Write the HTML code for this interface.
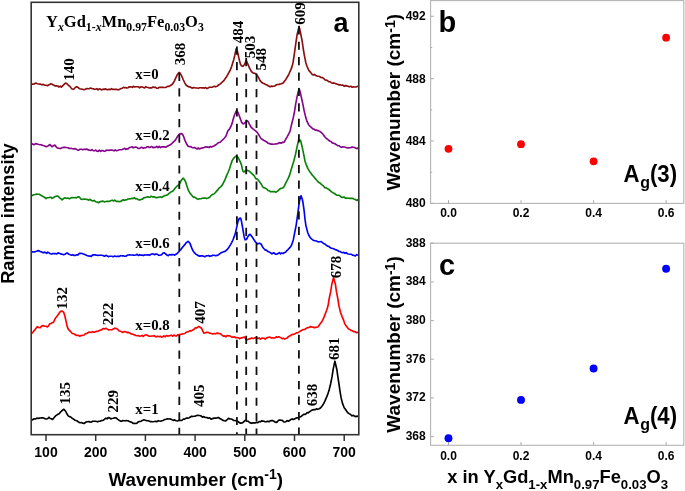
<!DOCTYPE html><html><head><meta charset="utf-8"><style>html,body{margin:0;padding:0;background:#fff;width:685px;height:491px;overflow:hidden}svg{display:block;will-change:transform}.s{font-family:"Liberation Sans",sans-serif;font-weight:bold}.t{font-family:"Liberation Serif",serif;font-weight:bold}</style></head><body>
<svg width="685" height="491" viewBox="0 0 685 491">
<path d="M31.5,84.6 L32.6,84.1 L34.2,84.0 L35.8,83.0 L37.3,83.7 L38.7,84.0 L40.2,84.1 L41.7,84.8 L43.2,84.4 L44.6,85.1 L46.2,85.3 L47.5,85.7 L48.5,85.0 L49.7,84.5 L50.8,83.8 L52.1,84.2 L53.4,85.1 L54.8,85.8 L56.3,85.8 L57.7,86.0 L59.0,87.0 L60.3,86.2 L61.4,87.1 L62.6,85.9 L63.6,84.9 L65.5,83.0 L66.7,83.5 L68.0,84.9 L69.5,86.1 L70.9,87.8 L72.0,89.0 L73.1,89.2 L74.2,88.7 L75.5,87.3 L76.7,86.7 L78.1,87.4 L79.6,88.8 L81.0,89.0 L82.5,89.2 L84.0,89.7 L85.4,89.2 L86.7,88.5 L88.4,88.7 L89.4,88.6 L90.6,88.0 L91.9,88.6 L93.2,88.7 L94.4,89.3 L95.7,89.2 L96.9,88.7 L98.1,89.8 L99.3,88.8 L100.6,89.3 L101.8,89.9 L103.0,89.1 L104.2,89.5 L105.4,88.8 L106.7,89.6 L107.9,89.6 L109.1,89.2 L110.3,89.6 L111.5,88.7 L112.8,89.4 L114.0,89.3 L115.3,89.4 L116.5,89.3 L117.6,89.8 L119.2,89.6 L120.7,88.6 L122.1,88.3 L123.4,87.3 L124.6,87.8 L125.8,87.6 L126.9,88.0 L128.0,87.7 L129.3,86.8 L130.7,86.8 L132.3,87.3 L133.3,86.3 L134.5,87.0 L135.8,86.7 L137.1,86.7 L138.3,86.7 L139.6,87.8 L140.8,86.8 L142.0,87.0 L143.2,87.3 L144.5,88.0 L145.7,86.7 L146.9,87.3 L148.1,87.5 L149.3,88.0 L150.6,87.9 L151.8,87.9 L153.0,87.0 L154.2,87.3 L155.4,87.3 L156.6,88.1 L157.8,88.3 L159.1,87.3 L160.3,87.3 L161.5,87.4 L162.8,87.3 L164.0,87.5 L165.3,87.5 L166.6,86.9 L167.8,86.3 L168.8,86.4 L170.5,85.5 L172.0,84.5 L173.2,83.1 L174.7,80.3 L176.1,77.2 L177.6,74.2 L179.0,72.4 L180.4,73.5 L181.9,76.5 L183.4,80.0 L184.9,83.1 L186.2,85.2 L187.8,86.3 L189.0,86.9 L190.4,87.0 L192.0,88.1 L193.6,87.6 L194.7,87.7 L195.9,88.0 L197.2,88.0 L198.4,88.3 L199.7,87.8 L200.9,87.7 L202.1,87.9 L203.3,87.8 L204.6,88.1 L205.8,87.5 L207.0,88.6 L208.2,88.1 L209.4,87.2 L210.7,87.2 L212.0,87.1 L213.3,86.8 L214.4,86.3 L215.5,86.8 L217.2,86.2 L218.6,85.0 L220.0,84.1 L221.4,82.8 L222.7,81.7 L223.9,80.6 L225.1,78.8 L226.2,77.3 L227.3,75.3 L228.9,72.5 L230.3,69.9 L231.6,66.6 L232.7,63.0 L233.8,59.4 L234.7,55.7 L236.1,48.8 L237.4,51.3 L239.1,59.1 L240.5,64.5 L241.5,65.8 L242.5,66.4 L243.5,65.7 L244.5,64.5 L246.2,60.3 L247.4,63.0 L248.4,65.3 L249.4,67.9 L251.3,71.4 L252.6,72.7 L253.8,73.1 L255.7,73.8 L256.7,75.0 L257.7,76.2 L258.8,78.2 L260.1,80.6 L261.5,82.2 L263.1,83.2 L264.4,83.8 L265.7,84.4 L267.0,84.9 L268.4,86.0 L270.0,86.8 L271.1,86.1 L272.3,86.4 L273.6,86.2 L275.0,85.9 L276.2,84.9 L277.5,84.5 L278.8,84.4 L280.0,84.1 L281.1,83.8 L282.4,83.4 L283.4,82.7 L284.4,81.3 L285.8,79.4 L287.3,77.0 L288.5,75.0 L289.7,72.2 L290.8,69.9 L292.1,66.4 L293.0,62.7 L294.1,55.6 L295.1,48.5 L296.1,41.4 L297.2,34.2 L299.1,26.4 L300.8,34.2 L302.2,41.4 L303.2,48.5 L304.4,55.6 L305.8,62.7 L307.1,66.6 L308.6,69.9 L309.7,71.4 L310.9,72.8 L312.2,74.4 L313.3,74.9 L314.4,74.4 L315.7,75.5 L317.2,76.1 L318.3,76.3 L319.5,76.5 L320.8,77.4 L322.2,77.6 L323.5,78.2 L324.8,79.8 L326.1,80.1 L327.4,80.6 L328.7,81.6 L330.0,81.7 L331.3,82.7 L332.6,83.2 L333.9,82.9 L335.2,83.4 L336.5,83.9 L337.7,84.2 L339.0,84.9 L340.3,84.8 L341.6,85.2 L342.9,85.0 L344.1,86.3 L345.4,85.6 L346.7,85.9 L348.0,86.2 L349.4,86.8 L350.8,86.3 L352.2,87.2 L353.6,86.8 L354.8,87.0 L355.8,87.0 L357.7,86.3 L358.7,86.6" fill="none" stroke="#8c0d0d" stroke-width="1.65" stroke-linejoin="round"/>
<path d="M31.5,144.2 L32.5,143.9 L34.0,144.7 L35.7,143.6 L37.3,144.0 L38.8,144.5 L40.3,144.7 L41.7,144.9 L43.1,145.5 L44.8,146.0 L46.2,146.7 L47.5,146.2 L48.7,145.6 L49.7,144.5 L50.8,145.4 L51.9,146.7 L53.4,145.7 L54.8,145.0 L55.8,146.4 L57.0,147.7 L58.2,148.1 L59.5,148.5 L60.7,148.4 L62.1,147.8 L63.6,147.4 L64.9,147.2 L66.4,147.5 L68.0,147.7 L69.4,148.5 L71.0,148.3 L72.5,148.7 L73.8,148.9 L75.2,148.6 L76.7,149.5 L77.7,150.1 L78.8,150.2 L80.1,149.2 L81.4,149.3 L82.6,149.8 L84.0,149.2 L85.4,149.4 L86.8,149.1 L88.4,149.9 L89.5,150.2 L90.7,150.5 L92.0,149.7 L93.2,150.6 L94.5,150.7 L95.7,150.1 L96.9,151.2 L98.1,151.4 L99.3,150.2 L100.6,151.4 L101.8,150.5 L103.0,150.6 L104.2,151.3 L105.4,151.0 L106.7,150.0 L107.9,150.3 L109.1,150.4 L110.3,150.1 L111.5,150.0 L112.8,150.2 L114.0,150.9 L115.3,149.9 L116.5,150.7 L117.6,150.5 L119.2,149.8 L120.7,149.7 L122.1,149.6 L123.4,149.1 L124.6,148.3 L125.8,149.3 L126.9,148.9 L128.0,148.9 L129.3,147.5 L130.7,147.3 L132.3,146.8 L133.3,147.8 L134.5,147.2 L135.8,147.1 L137.1,147.6 L138.3,148.5 L139.6,148.4 L140.8,147.5 L142.0,147.3 L143.2,148.3 L144.5,147.7 L145.7,147.8 L146.9,146.8 L148.1,146.7 L149.3,147.5 L150.6,147.1 L151.8,146.5 L153.0,147.7 L154.2,147.2 L155.4,147.5 L156.7,146.3 L157.9,147.6 L159.2,146.3 L160.4,147.6 L161.5,146.9 L163.1,146.7 L164.6,146.9 L166.0,147.2 L167.3,146.2 L168.9,145.4 L170.3,144.8 L171.7,143.6 L173.0,142.4 L174.3,141.2 L175.4,140.1 L176.8,137.7 L178.0,135.8 L179.5,134.1 L180.9,133.6 L182.1,133.9 L183.2,135.5 L184.9,140.1 L186.2,143.2 L187.8,146.0 L189.0,146.6 L190.5,146.5 L192.2,147.7 L193.3,147.7 L194.5,147.5 L195.8,148.2 L197.1,149.0 L198.3,148.0 L199.5,149.0 L201.0,148.3 L202.4,147.9 L203.8,147.8 L205.3,146.9 L206.4,146.9 L207.7,147.1 L209.0,147.5 L210.2,146.5 L211.5,147.1 L212.6,146.6 L214.3,145.8 L215.9,144.7 L217.3,143.7 L218.4,142.7 L220.0,142.3 L221.4,141.0 L222.9,139.7 L224.5,138.0 L225.9,136.3 L227.8,130.9 L228.8,129.9 L229.8,128.5 L231.0,126.2 L232.2,123.1 L233.2,119.3 L234.2,115.7 L236.1,111.2 L237.1,111.3 L238.1,112.8 L239.6,116.7 L241.5,122.1 L242.8,123.6 L244.0,123.6 L245.9,121.9 L247.4,120.8 L248.4,122.1 L249.4,124.1 L251.3,127.5 L252.7,128.7 L254.2,129.9 L255.8,131.1 L257.2,132.4 L259.1,135.3 L260.0,136.8 L261.1,138.7 L262.5,139.5 L264.0,140.6 L265.5,141.3 L267.0,142.2 L268.0,143.2 L269.4,143.6 L270.6,144.1 L272.0,144.1 L273.5,144.3 L275.0,144.0 L276.2,143.9 L277.6,143.8 L278.9,142.9 L280.1,142.6 L281.1,143.2 L282.7,142.2 L283.7,142.5 L284.8,141.1 L285.8,139.0 L287.0,137.1 L288.2,134.8 L290.1,131.2 L291.5,124.7 L293.3,117.6 L294.7,110.5 L295.8,103.4 L297.2,96.2 L299.0,88.6 L300.1,91.6 L301.1,96.2 L302.7,103.4 L304.1,110.5 L305.8,117.6 L307.0,121.4 L308.6,124.7 L309.9,126.2 L311.5,127.6 L312.9,128.9 L314.1,129.1 L315.3,130.1 L316.5,130.1 L317.9,130.6 L319.4,131.2 L320.9,132.1 L322.1,133.3 L323.2,134.5 L324.5,136.5 L325.8,137.8 L327.0,138.9 L328.3,139.9 L329.6,141.0 L331.0,141.5 L332.3,142.9 L333.6,143.3 L334.9,143.8 L336.3,144.7 L337.6,145.7 L338.9,145.7 L340.2,146.7 L341.5,147.3 L342.8,146.9 L344.1,147.0 L345.4,147.3 L346.7,147.7 L348.0,147.9 L349.4,147.7 L350.7,147.7 L351.9,147.0 L353.5,147.3 L355.1,147.7 L356.5,148.6 L357.6,148.1 L358.7,148.5" fill="none" stroke="#86068a" stroke-width="1.65" stroke-linejoin="round"/>
<path d="M31.5,195.6 L32.4,195.4 L33.7,194.8 L35.2,194.5 L36.6,194.1 L37.9,194.2 L39.2,194.3 L40.5,195.1 L41.7,195.7 L43.2,196.6 L44.7,197.4 L46.1,198.7 L47.4,197.7 L48.6,197.7 L49.7,197.2 L50.8,197.2 L51.9,198.3 L53.3,197.7 L54.8,196.8 L56.0,196.2 L57.2,196.1 L58.5,196.6 L59.7,198.1 L61.0,198.8 L62.1,199.8 L63.5,198.6 L65.0,197.8 L66.4,198.5 L68.0,198.0 L69.4,198.9 L70.9,197.9 L72.3,197.5 L73.8,197.7 L75.3,197.5 L76.5,197.9 L77.8,196.9 L78.9,196.8 L79.8,197.7 L81.1,199.3 L82.0,199.4 L83.2,199.3 L84.5,199.0 L85.9,199.3 L87.2,199.3 L88.4,200.2 L90.0,199.3 L91.5,200.5 L92.9,200.9 L94.2,200.4 L95.8,201.8 L97.2,202.1 L98.6,202.7 L100.0,201.8 L101.4,201.4 L103.0,201.1 L104.3,201.9 L105.8,201.5 L107.3,201.3 L108.8,201.4 L110.0,201.1 L111.2,200.5 L112.4,200.3 L113.6,201.0 L114.7,200.2 L116.3,201.4 L117.7,201.3 L119.1,201.6 L120.6,201.5 L122.0,200.4 L123.4,199.9 L124.6,200.2 L125.8,199.9 L127.0,199.6 L128.2,199.0 L129.4,198.9 L130.8,198.8 L131.9,198.3 L133.1,198.6 L134.4,197.7 L135.6,198.8 L136.7,198.6 L138.1,199.5 L139.2,200.0 L140.3,199.9 L141.4,199.3 L142.5,199.1 L144.0,197.6 L145.0,197.7 L146.2,197.2 L147.5,196.8 L148.8,197.1 L150.1,197.2 L151.3,196.2 L152.9,196.9 L154.3,196.8 L155.7,197.6 L157.1,197.6 L158.3,197.2 L159.5,197.0 L160.6,196.9 L161.8,197.4 L163.0,196.5 L164.5,195.6 L166.0,195.5 L167.5,194.8 L168.8,193.6 L170.4,192.3 L171.9,191.5 L173.2,190.7 L174.7,188.7 L176.1,187.0 L177.6,185.7 L179.0,184.8 L180.2,182.6 L181.2,180.4 L183.1,178.2 L184.3,179.3 L185.6,181.9 L187.0,186.2 L188.5,190.7 L189.7,192.7 L190.9,194.2 L192.2,195.8 L193.4,197.2 L194.6,197.1 L195.8,198.0 L197.0,198.7 L198.2,199.3 L199.5,198.7 L200.9,198.7 L202.3,198.2 L203.8,198.1 L205.3,198.0 L206.7,198.6 L208.2,198.0 L209.7,197.2 L211.3,195.3 L212.6,194.3 L213.9,194.0 L215.0,193.0 L216.4,191.4 L217.9,189.6 L219.4,187.8 L220.9,186.6 L222.4,184.9 L223.8,182.2 L225.2,179.1 L226.7,175.4 L228.2,172.0 L229.6,168.6 L230.9,164.3 L232.1,160.7 L234.0,157.8 L235.0,156.9 L236.0,156.1 L237.0,156.3 L238.0,157.3 L239.9,161.2 L241.4,164.6 L242.8,171.0 L243.8,172.0 L244.8,171.3 L246.7,170.3 L247.7,170.4 L248.7,170.8 L249.8,171.6 L251.1,172.8 L252.6,174.3 L254.1,175.6 L256.0,178.8 L256.9,178.8 L258.0,179.8 L259.4,181.6 L260.9,183.7 L262.1,185.7 L263.3,187.6 L264.4,187.8 L265.6,188.4 L266.8,189.1 L268.1,190.5 L269.7,191.1 L270.7,191.8 L271.9,191.6 L273.2,191.5 L274.5,191.6 L275.7,192.3 L277.2,191.4 L278.6,190.1 L280.0,188.8 L281.1,188.4 L282.6,188.0 L283.7,187.1 L284.7,185.3 L285.8,182.9 L286.9,180.9 L288.3,178.1 L289.4,175.7 L290.5,172.1 L291.5,168.6 L292.6,165.1 L293.7,161.5 L295.5,154.4 L297.0,147.2 L298.7,139.4 L300.6,140.4 L302.2,147.2 L303.7,154.4 L305.1,161.5 L306.4,165.1 L307.9,168.6 L309.4,171.2 L310.8,172.9 L311.8,174.6 L312.9,175.7 L313.8,176.7 L314.9,178.1 L316.5,180.0 L317.6,181.2 L318.9,182.6 L320.4,183.3 L321.9,184.8 L323.4,185.9 L324.7,187.6 L326.2,187.9 L327.6,188.7 L328.9,189.5 L330.2,190.6 L331.6,191.9 L333.0,192.7 L334.4,193.4 L335.7,194.5 L337.1,195.2 L338.5,195.3 L339.9,195.8 L341.3,197.1 L342.7,197.4 L344.1,197.0 L345.5,198.1 L346.9,198.0 L348.3,198.3 L349.7,198.4 L351.1,198.3 L352.4,198.3 L353.8,199.0 L355.2,199.3 L356.5,200.4 L357.7,199.6 L358.5,200.9" fill="none" stroke="#0a820a" stroke-width="1.65" stroke-linejoin="round"/>
<path d="M31.5,251.9 L32.5,251.9 L34.0,252.0 L35.7,251.6 L37.3,250.9 L38.7,250.6 L40.2,251.5 L41.6,251.9 L43.1,252.9 L44.3,252.1 L45.5,252.5 L46.7,253.3 L47.9,252.2 L49.0,252.9 L50.3,253.7 L51.6,254.0 L52.8,253.5 L54.1,253.6 L55.4,253.5 L56.7,254.0 L58.0,252.9 L59.2,253.3 L60.8,253.9 L62.3,254.3 L63.6,254.7 L65.0,254.3 L66.5,253.1 L67.6,253.1 L68.9,254.3 L70.3,254.8 L71.6,255.1 L72.8,254.8 L74.1,255.5 L75.3,255.4 L76.7,254.8 L78.0,254.9 L79.4,253.4 L80.8,253.4 L82.1,253.5 L83.3,254.0 L84.7,254.4 L85.8,254.9 L86.9,255.5 L88.4,255.9 L89.9,256.1 L91.3,256.4 L92.7,254.9 L94.2,254.8 L95.2,254.9 L96.3,255.1 L97.6,255.3 L98.9,255.3 L100.1,255.2 L101.6,255.3 L103.0,255.5 L104.4,256.2 L105.9,255.4 L107.1,255.8 L108.3,256.7 L109.4,256.3 L110.6,256.2 L111.8,256.2 L113.3,256.7 L114.7,256.0 L116.2,256.5 L117.6,256.2 L119.1,256.4 L120.6,255.7 L122.0,255.8 L123.4,255.8 L124.6,256.2 L125.8,256.2 L126.9,255.5 L128.0,255.0 L129.3,254.9 L130.7,255.0 L132.3,255.0 L133.3,255.1 L134.5,255.3 L135.8,255.0 L137.1,254.3 L138.3,255.5 L139.6,254.7 L140.8,255.2 L142.0,255.0 L143.2,255.6 L144.5,254.9 L145.7,255.0 L146.9,254.9 L148.1,254.7 L149.4,255.3 L150.6,254.6 L151.9,254.0 L153.1,253.9 L154.2,254.6 L155.8,254.1 L157.3,254.2 L158.7,255.3 L160.0,255.2 L161.6,254.8 L163.1,253.0 L164.4,252.8 L165.7,254.0 L167.3,255.3 L168.3,255.7 L169.5,254.5 L170.9,254.9 L172.2,254.6 L173.5,254.6 L174.6,255.2 L176.3,254.0 L177.6,253.1 L179.0,251.4 L180.5,250.0 L182.0,247.9 L183.4,246.3 L185.0,244.4 L186.3,242.6 L188.1,241.3 L190.0,243.4 L191.0,246.1 L192.2,249.2 L193.2,251.0 L194.3,252.6 L195.8,254.1 L196.9,254.7 L198.2,255.6 L199.6,256.1 L201.0,255.9 L202.4,255.8 L203.6,256.3 L204.8,256.7 L206.1,255.9 L207.4,255.8 L208.6,255.5 L209.7,256.2 L211.3,255.9 L212.8,255.2 L214.2,255.3 L215.5,255.7 L217.1,255.4 L218.6,254.7 L219.9,253.6 L221.3,252.6 L222.5,252.2 L223.7,251.8 L225.0,251.4 L226.2,250.3 L227.6,249.1 L228.9,247.2 L230.4,244.9 L231.8,242.3 L233.1,239.5 L234.3,236.4 L235.4,233.0 L236.3,229.1 L237.9,221.7 L239.2,218.6 L240.5,218.0 L241.4,220.8 L242.6,227.6 L244.1,236.4 L245.1,239.8 L246.5,239.4 L248.0,236.4 L249.0,235.0 L250.0,234.3 L251.4,235.9 L252.4,237.3 L253.4,238.9 L255.3,241.8 L256.3,242.7 L257.3,243.9 L258.5,243.5 L259.7,243.3 L261.2,244.2 L262.7,247.2 L263.8,248.5 L265.1,249.9 L266.6,250.4 L268.1,251.6 L270.0,252.4 L271.9,253.8 L272.9,253.1 L274.0,252.9 L275.4,254.2 L276.7,254.2 L278.0,253.4 L279.3,252.7 L280.6,253.9 L281.8,253.0 L283.0,253.5 L284.1,252.8 L285.5,252.2 L286.7,250.7 L287.8,249.8 L289.1,248.4 L290.3,247.1 L291.4,245.6 L293.3,239.9 L294.7,232.7 L296.1,225.6 L297.1,218.5 L298.1,211.4 L299.0,204.2 L299.7,200.0 L301.1,195.7 L302.5,200.0 L303.2,204.2 L304.2,211.4 L304.9,218.5 L305.9,225.6 L307.8,232.7 L308.8,235.3 L309.9,237.0 L311.1,238.7 L312.8,239.9 L314.1,240.6 L315.8,240.8 L317.4,241.4 L318.5,241.9 L319.3,241.7 L321.2,241.6 L322.5,242.6 L323.5,243.4 L324.9,244.0 L326.6,245.6 L327.6,246.1 L328.8,246.4 L330.1,247.5 L331.4,248.2 L332.7,248.5 L334.0,248.8 L335.2,249.7 L336.4,249.9 L337.7,250.5 L338.9,251.4 L340.1,251.5 L341.3,252.3 L342.5,252.7 L343.8,252.4 L345.1,253.3 L346.3,252.7 L347.5,253.8 L348.6,254.0 L350.1,254.2 L351.5,254.3 L352.8,255.3 L354.1,255.4 L355.4,256.0 L356.7,254.7 L357.9,255.0 L358.7,255.1" fill="none" stroke="#0000f5" stroke-width="1.65" stroke-linejoin="round"/>
<path d="M31.5,333.7 L32.8,332.3 L34.4,330.4 L35.8,328.6 L37.3,326.7 L38.8,327.5 L40.2,327.7 L41.6,326.0 L43.1,325.6 L44.5,326.2 L46.1,326.2 L47.5,327.0 L48.6,325.7 L49.7,323.8 L50.9,323.7 L52.2,322.7 L53.4,322.3 L54.5,320.1 L55.5,318.0 L57.0,316.3 L58.5,314.3 L59.6,312.4 L60.7,311.4 L62.2,311.1 L63.6,312.1 L65.0,316.5 L66.1,321.6 L67.2,326.7 L68.3,329.1 L69.4,330.4 L70.7,331.7 L72.3,333.5 L73.7,333.7 L75.2,334.8 L76.7,335.4 L78.2,335.3 L79.6,336.1 L81.1,335.6 L82.6,335.2 L84.1,335.0 L85.5,333.6 L86.9,333.5 L88.4,332.4 L89.6,332.0 L91.1,332.5 L92.7,331.6 L94.2,332.4 L95.4,331.7 L96.6,331.2 L97.8,331.4 L99.0,330.7 L100.1,330.1 L101.6,329.9 L103.0,328.5 L104.5,328.9 L105.9,328.3 L107.3,329.1 L108.8,330.0 L110.3,329.7 L111.8,329.7 L113.3,328.9 L114.7,328.2 L116.1,328.4 L117.6,329.3 L118.9,330.7 L120.5,331.3 L121.7,331.7 L123.0,332.4 L124.4,331.5 L125.7,331.8 L127.0,332.6 L128.4,332.4 L129.6,332.9 L130.9,333.8 L132.3,334.1 L133.4,334.6 L134.6,334.8 L135.8,335.5 L137.1,335.8 L138.4,335.5 L139.6,336.2 L140.8,336.0 L142.0,335.4 L143.2,336.4 L144.5,335.3 L145.7,335.0 L146.9,334.9 L148.1,335.8 L149.3,336.2 L150.6,336.3 L151.8,336.0 L153.0,336.0 L154.2,335.7 L155.4,336.7 L156.6,336.6 L157.8,336.2 L159.1,336.7 L160.3,336.3 L161.5,337.1 L162.7,336.7 L163.9,335.9 L165.2,336.8 L166.4,335.5 L167.6,336.1 L168.8,335.9 L170.1,335.5 L171.3,335.2 L172.6,336.2 L173.9,335.0 L175.1,335.7 L176.1,336.1 L177.7,334.8 L179.0,334.6 L180.5,334.6 L181.8,334.1 L183.3,333.8 L184.8,333.5 L186.3,332.2 L187.5,331.9 L188.7,331.4 L190.0,330.6 L191.1,331.0 L192.2,330.4 L193.8,329.5 L195.3,327.9 L196.5,328.0 L197.7,327.1 L198.7,326.5 L200.1,327.2 L201.6,328.2 L202.6,330.7 L203.8,333.1 L205.0,333.0 L206.5,332.3 L208.2,332.4 L209.3,333.1 L210.5,333.3 L211.8,333.8 L213.0,333.9 L214.1,333.5 L215.7,333.7 L217.1,333.1 L218.4,333.4 L219.7,333.6 L220.9,334.1 L222.0,335.1 L223.4,336.2 L224.9,335.9 L226.0,336.8 L227.2,335.5 L228.5,335.8 L229.8,335.8 L231.0,336.7 L232.3,337.1 L233.5,337.1 L234.7,336.8 L235.9,337.8 L237.1,337.5 L238.3,337.7 L239.5,338.7 L240.8,338.1 L242.1,337.7 L243.4,337.3 L244.4,337.0 L246.3,339.5 L247.5,339.7 L248.9,338.9 L250.5,338.6 L251.6,338.0 L252.8,338.4 L254.1,338.2 L255.3,337.8 L256.6,337.8 L257.8,338.5 L259.0,337.9 L260.3,339.2 L261.5,338.3 L262.7,338.1 L263.9,338.2 L265.1,339.1 L266.4,338.1 L267.6,337.6 L268.8,337.3 L270.0,337.1 L271.3,338.0 L272.5,337.9 L273.8,338.0 L274.9,337.9 L276.2,336.9 L277.5,337.3 L278.7,336.8 L279.8,337.3 L281.1,337.8 L282.2,338.7 L283.5,338.3 L284.6,339.0 L285.9,338.6 L287.1,338.1 L288.4,336.6 L289.7,336.1 L291.0,335.2 L292.2,334.4 L293.3,334.5 L294.9,333.8 L296.5,332.9 L297.7,332.7 L299.1,331.9 L300.6,330.9 L302.2,330.1 L303.5,329.5 L304.9,329.4 L306.4,328.2 L307.9,327.6 L309.3,327.3 L310.5,326.6 L311.8,326.9 L313.1,327.1 L314.4,327.8 L315.5,327.4 L316.5,327.2 L318.0,326.9 L319.0,325.4 L320.0,324.1 L321.4,322.3 L322.8,319.9 L324.3,316.4 L325.7,312.7 L327.0,309.2 L328.1,305.6 L329.2,298.5 L330.7,291.4 L331.8,284.2 L333.5,277.6 L335.4,284.2 L336.4,291.4 L337.8,298.5 L338.9,305.6 L340.6,312.7 L342.1,316.6 L343.5,319.9 L344.9,324.1 L345.9,325.6 L347.0,327.0 L348.4,328.7 L349.9,329.6 L351.0,330.4 L352.2,330.7 L353.5,331.7 L354.8,331.5 L356.3,332.7 L357.7,332.4 L358.7,332.4" fill="none" stroke="#fb0000" stroke-width="1.65" stroke-linejoin="round"/>
<path d="M31.5,420.3 L32.6,419.7 L34.1,418.8 L35.8,419.0 L36.9,418.0 L38.1,418.5 L39.4,418.1 L40.6,418.0 L41.7,417.8 L43.3,417.9 L44.8,418.6 L46.1,419.0 L47.6,418.7 L49.0,417.2 L50.2,418.5 L51.4,418.8 L52.6,419.5 L54.0,417.8 L55.5,415.9 L56.7,415.1 L58.0,414.3 L59.2,413.7 L60.6,412.0 L61.8,410.8 L62.9,409.8 L63.9,409.3 L65.8,411.5 L66.9,413.8 L68.2,415.9 L69.4,416.6 L70.8,417.0 L72.3,418.4 L73.7,419.2 L75.1,420.3 L76.7,420.7 L77.8,421.5 L79.0,422.4 L80.2,422.7 L81.4,422.6 L82.6,423.1 L84.1,423.5 L85.5,422.3 L87.0,421.7 L88.4,421.5 L89.8,421.9 L91.3,422.1 L92.7,421.2 L94.2,421.2 L95.4,421.3 L96.6,421.5 L97.7,421.8 L98.9,421.2 L100.1,421.2 L101.6,420.5 L103.0,420.4 L104.4,419.3 L105.9,418.1 L107.1,418.8 L108.3,417.6 L109.6,417.9 L110.7,418.9 L111.8,418.5 L113.3,418.3 L114.7,417.8 L116.1,417.8 L117.5,419.2 L118.9,420.2 L120.5,421.1 L121.6,421.3 L122.9,420.6 L124.2,420.7 L125.4,420.8 L126.4,420.5 L128.0,420.7 L129.4,421.5 L130.5,421.9 L131.8,422.3 L133.2,423.4 L134.5,423.4 L135.8,423.5 L137.0,423.1 L138.3,421.9 L139.6,421.5 L141.0,421.2 L142.4,420.4 L143.9,419.8 L145.4,420.3 L146.6,420.6 L147.8,420.7 L148.9,421.0 L150.1,421.6 L151.3,421.6 L152.8,421.7 L154.2,421.5 L155.6,421.2 L157.1,421.6 L158.3,420.7 L159.5,421.0 L160.6,421.2 L161.8,420.8 L163.0,420.5 L164.5,419.6 L165.9,419.3 L167.4,418.9 L168.8,419.0 L170.3,418.9 L171.8,419.6 L173.2,420.4 L174.6,419.9 L176.2,420.7 L177.6,421.0 L179.0,420.3 L180.4,420.3 L181.8,420.5 L183.4,419.0 L184.7,419.1 L186.2,418.1 L187.7,418.1 L189.2,417.8 L190.4,417.0 L191.7,416.2 L192.9,416.5 L194.1,416.2 L195.1,416.2 L196.5,415.5 L197.6,415.3 L198.7,415.5 L199.9,415.5 L201.1,416.0 L202.4,417.1 L203.8,416.6 L205.2,417.5 L206.8,417.5 L208.2,418.3 L209.6,417.8 L211.1,419.2 L212.6,418.6 L214.0,418.1 L215.4,418.1 L216.9,417.9 L218.4,417.5 L219.8,418.5 L221.3,419.3 L222.9,420.4 L224.3,420.8 L225.5,421.0 L227.2,419.7 L228.5,418.3 L229.7,418.9 L230.9,419.0 L232.2,419.3 L233.5,420.4 L235.0,420.5 L236.5,420.9 L237.8,421.3 L239.3,422.6 L240.7,423.1 L242.0,423.0 L243.3,422.2 L244.4,421.1 L245.6,420.1 L246.7,421.1 L248.0,421.2 L249.2,422.2 L250.5,422.9 L251.7,423.3 L252.9,422.9 L254.1,422.7 L255.4,423.0 L256.6,422.2 L257.8,422.6 L259.1,421.6 L260.3,421.8 L261.5,420.9 L262.8,421.1 L263.9,421.3 L265.1,421.8 L266.4,421.6 L267.6,421.2 L268.9,421.8 L270.2,420.9 L271.4,420.6 L272.5,420.6 L273.9,421.3 L275.1,422.0 L276.2,422.5 L277.4,421.7 L278.6,420.3 L279.8,420.0 L281.0,420.3 L282.2,420.4 L283.5,421.7 L284.6,422.0 L285.9,421.7 L287.1,420.6 L288.4,421.2 L289.6,420.6 L290.9,419.4 L292.1,418.9 L293.3,419.5 L294.5,418.9 L295.7,418.3 L296.8,417.9 L298.1,417.6 L299.5,417.0 L300.9,416.6 L302.4,415.3 L303.7,414.3 L304.9,414.4 L306.1,413.8 L307.2,412.6 L308.3,412.8 L309.4,411.8 L310.6,411.1 L311.7,410.2 L312.9,409.9 L314.1,409.6 L315.3,409.7 L316.4,408.8 L317.5,409.3 L319.2,408.7 L320.7,407.7 L322.3,405.8 L323.8,403.4 L325.1,400.7 L326.4,397.7 L327.8,394.1 L329.0,390.6 L330.7,383.5 L332.1,376.4 L333.2,369.2 L334.9,361.2 L336.8,369.2 L337.8,376.4 L338.9,383.5 L339.9,390.6 L341.1,397.7 L342.5,403.4 L344.2,407.7 L345.6,409.5 L346.5,411.1 L347.8,412.7 L349.1,413.6 L350.6,414.5 L352.0,415.8 L353.5,415.4 L354.9,416.4 L356.1,416.6 L357.3,416.0 L358.2,417.0" fill="none" stroke="#000000" stroke-width="1.65" stroke-linejoin="round"/>
<line x1="179.3" y1="72.8" x2="179.3" y2="434" stroke="#111" stroke-width="1.8" stroke-dasharray="8.2 7.23"/>
<line x1="236.9" y1="46.6" x2="236.9" y2="434" stroke="#111" stroke-width="1.8" stroke-dasharray="8.2 7.23"/>
<line x1="246.2" y1="58.1" x2="246.2" y2="434" stroke="#111" stroke-width="1.8" stroke-dasharray="8.2 7.23"/>
<line x1="256.5" y1="73.6" x2="256.5" y2="434" stroke="#111" stroke-width="1.8" stroke-dasharray="8.2 7.23"/>
<line x1="298.9" y1="26.2" x2="298.9" y2="434" stroke="#111" stroke-width="1.8" stroke-dasharray="8.2 7.23"/>
<rect x="31.2" y="2.3" width="327.6" height="432.4" fill="none" stroke="#333" stroke-width="1.6"/>
<line x1="46.0" y1="434.7" x2="46.0" y2="441" stroke="#333" stroke-width="1.5"/>
<text class="s" transform="translate(46.0,457.0) scale(1,1.07)" font-size="14" text-anchor="middle">100</text>
<line x1="95.7" y1="434.7" x2="95.7" y2="441" stroke="#333" stroke-width="1.5"/>
<text class="s" transform="translate(95.7,457.0) scale(1,1.07)" font-size="14" text-anchor="middle">200</text>
<line x1="145.4" y1="434.7" x2="145.4" y2="441" stroke="#333" stroke-width="1.5"/>
<text class="s" transform="translate(145.4,457.0) scale(1,1.07)" font-size="14" text-anchor="middle">300</text>
<line x1="195.1" y1="434.7" x2="195.1" y2="441" stroke="#333" stroke-width="1.5"/>
<text class="s" transform="translate(195.1,457.0) scale(1,1.07)" font-size="14" text-anchor="middle">400</text>
<line x1="244.8" y1="434.7" x2="244.8" y2="441" stroke="#333" stroke-width="1.5"/>
<text class="s" transform="translate(244.8,457.0) scale(1,1.07)" font-size="14" text-anchor="middle">500</text>
<line x1="294.5" y1="434.7" x2="294.5" y2="441" stroke="#333" stroke-width="1.5"/>
<text class="s" transform="translate(294.5,457.0) scale(1,1.07)" font-size="14" text-anchor="middle">600</text>
<line x1="344.2" y1="434.7" x2="344.2" y2="441" stroke="#333" stroke-width="1.5"/>
<text class="s" transform="translate(344.2,457.0) scale(1,1.07)" font-size="14" text-anchor="middle">700</text>
<text class="s" x="195.8" y="486" font-size="18.8" text-anchor="middle">Wavenumber (cm<tspan font-size="14" dy="-7.2">-1</tspan><tspan dy="7.2">)</tspan></text>
<text class="s" transform="translate(13.6,213.6) rotate(-90)" font-size="18.2" text-anchor="middle">Raman intensity</text>
<text class="t" x="46" y="26.6" font-size="16.5">Y<tspan font-size="11.8" dy="4.6" font-style="italic">x</tspan><tspan dy="-4.6">Gd</tspan><tspan font-size="11.8" dy="4.6">1-<tspan font-style="italic">x</tspan></tspan><tspan dy="-4.6">Mn</tspan><tspan font-size="11.8" dy="4.6">0.97</tspan><tspan dy="-4.6">Fe</tspan><tspan font-size="11.8" dy="4.6">0.03</tspan><tspan dy="-4.6">O</tspan><tspan font-size="11.8" dy="4.6">3</tspan></text>
<text class="s" x="333.6" y="32.1" font-size="27">a</text>
<text class="t" x="135.3" y="78.9" font-size="14.8">x=0</text>
<text class="t" x="135.3" y="140.3" font-size="14.8">x=0.2</text>
<text class="t" x="135.3" y="191.2" font-size="14.8">x=0.4</text>
<text class="t" x="135.3" y="247.6" font-size="14.8">x=0.6</text>
<text class="t" x="135.3" y="329.9" font-size="14.8">x=0.8</text>
<text class="t" x="135.3" y="413.9" font-size="14.8">x=1</text>
<text class="t" transform="translate(73.9,69.6) rotate(-90)" font-size="15.0" text-anchor="middle">140</text>
<text class="t" transform="translate(184.8,54.0) rotate(-90)" font-size="15.0" text-anchor="middle">368</text>
<text class="t" transform="translate(242.9,32.0) rotate(-90)" font-size="15.0" text-anchor="middle">484</text>
<text class="t" transform="translate(255.2,47.1) rotate(-90)" font-size="15.0" text-anchor="middle">503</text>
<text class="t" transform="translate(266.3,59.3) rotate(-90)" font-size="15.0" text-anchor="middle">548</text>
<text class="t" transform="translate(304.7,13.5) rotate(-90)" font-size="15.0" text-anchor="middle">609</text>
<text class="t" transform="translate(67.4,298.2) rotate(-90)" font-size="15.0" text-anchor="middle">132</text>
<text class="t" transform="translate(112.5,313.9) rotate(-90)" font-size="15.0" text-anchor="middle">222</text>
<text class="t" transform="translate(204.8,312.6) rotate(-90)" font-size="15.0" text-anchor="middle">407</text>
<text class="t" transform="translate(340.7,266.9) rotate(-90)" font-size="15.0" text-anchor="middle">678</text>
<text class="t" transform="translate(70.1,393.2) rotate(-90)" font-size="15.0" text-anchor="middle">135</text>
<text class="t" transform="translate(117.6,401.2) rotate(-90)" font-size="15.0" text-anchor="middle">229</text>
<text class="t" transform="translate(204.1,395.8) rotate(-90)" font-size="15.0" text-anchor="middle">405</text>
<text class="t" transform="translate(316.6,394.9) rotate(-90)" font-size="15.0" text-anchor="middle">638</text>
<text class="t" transform="translate(339.2,348.8) rotate(-90)" font-size="15.0" text-anchor="middle">681</text>
<rect x="430.6" y="0.6" width="253.2" height="202.8" fill="none" stroke="#b4b4b4" stroke-width="1.1"/>
<line x1="430.6" y1="203.4" x2="433.8" y2="203.4" stroke="#aaa" stroke-width="1"/>
<text class="s" x="425.7" y="207.2" font-size="12" text-anchor="end">480</text>
<line x1="430.6" y1="172.2" x2="432.2" y2="172.2" stroke="#aaa" stroke-width="1"/>
<line x1="430.6" y1="141.0" x2="433.8" y2="141.0" stroke="#aaa" stroke-width="1"/>
<text class="s" x="425.7" y="144.8" font-size="12" text-anchor="end">484</text>
<line x1="430.6" y1="109.9" x2="432.2" y2="109.9" stroke="#aaa" stroke-width="1"/>
<line x1="430.6" y1="78.7" x2="433.8" y2="78.7" stroke="#aaa" stroke-width="1"/>
<text class="s" x="425.7" y="82.5" font-size="12" text-anchor="end">488</text>
<line x1="430.6" y1="47.5" x2="432.2" y2="47.5" stroke="#aaa" stroke-width="1"/>
<line x1="430.6" y1="16.3" x2="433.8" y2="16.3" stroke="#aaa" stroke-width="1"/>
<text class="s" x="425.7" y="20.1" font-size="12" text-anchor="end">492</text>
<line x1="448.5" y1="203.4" x2="448.5" y2="200.2" stroke="#aaa" stroke-width="1"/>
<text class="s" x="448.5" y="217.1" font-size="12" text-anchor="middle">0.0</text>
<line x1="521.0" y1="203.4" x2="521.0" y2="200.2" stroke="#aaa" stroke-width="1"/>
<text class="s" x="521.0" y="217.1" font-size="12" text-anchor="middle">0.2</text>
<line x1="593.6" y1="203.4" x2="593.6" y2="200.2" stroke="#aaa" stroke-width="1"/>
<text class="s" x="593.6" y="217.1" font-size="12" text-anchor="middle">0.4</text>
<line x1="666.1" y1="203.4" x2="666.1" y2="200.2" stroke="#aaa" stroke-width="1"/>
<text class="s" x="666.1" y="217.1" font-size="12" text-anchor="middle">0.6</text>
<text class="s" x="438.6" y="32.1" font-size="29">b</text>
<text class="s" transform="translate(623.6,181.6) scale(1,1.06)" font-size="22.2">A<tspan font-size="16" dy="5.8" dx="0.6">g</tspan><tspan dy="-5.8">(3)</tspan></text>
<circle cx="448.5" cy="148.8" r="3.9" fill="#f00"/>
<circle cx="521.0" cy="144.2" r="3.9" fill="#f00"/>
<circle cx="593.6" cy="161.3" r="3.9" fill="#f00"/>
<circle cx="666.1" cy="37.7" r="3.9" fill="#f00"/>
<text class="s" transform="translate(399.9,102.2) rotate(-90)" font-size="19" text-anchor="middle">Wavenumber (cm<tspan font-size="14" dy="-5.3">-1</tspan><tspan dy="5.3">)</tspan></text>
<rect x="430.6" y="243.2" width="253.2" height="202.1" fill="none" stroke="#b4b4b4" stroke-width="1.1"/>
<line x1="430.6" y1="436.6" x2="433.8" y2="436.6" stroke="#aaa" stroke-width="1"/>
<text class="s" x="425.7" y="440.0" font-size="12" text-anchor="end">368</text>
<line x1="430.6" y1="397.9" x2="433.8" y2="397.9" stroke="#aaa" stroke-width="1"/>
<text class="s" x="425.7" y="401.3" font-size="12" text-anchor="end">372</text>
<line x1="430.6" y1="359.2" x2="433.8" y2="359.2" stroke="#aaa" stroke-width="1"/>
<text class="s" x="425.7" y="362.6" font-size="12" text-anchor="end">376</text>
<line x1="430.6" y1="320.6" x2="433.8" y2="320.6" stroke="#aaa" stroke-width="1"/>
<text class="s" x="425.7" y="324.0" font-size="12" text-anchor="end">380</text>
<line x1="430.6" y1="281.9" x2="433.8" y2="281.9" stroke="#aaa" stroke-width="1"/>
<text class="s" x="425.7" y="285.3" font-size="12" text-anchor="end">384</text>
<line x1="430.6" y1="243.2" x2="433.8" y2="243.2" stroke="#aaa" stroke-width="1"/>
<text class="s" x="425.7" y="246.6" font-size="12" text-anchor="end">388</text>
<line x1="448.5" y1="445.3" x2="448.5" y2="442.1" stroke="#aaa" stroke-width="1"/>
<text class="s" x="448.5" y="459.5" font-size="12" text-anchor="middle">0.0</text>
<line x1="521.0" y1="445.3" x2="521.0" y2="442.1" stroke="#aaa" stroke-width="1"/>
<text class="s" x="521.0" y="459.5" font-size="12" text-anchor="middle">0.2</text>
<line x1="593.6" y1="445.3" x2="593.6" y2="442.1" stroke="#aaa" stroke-width="1"/>
<text class="s" x="593.6" y="459.5" font-size="12" text-anchor="middle">0.4</text>
<line x1="666.1" y1="445.3" x2="666.1" y2="442.1" stroke="#aaa" stroke-width="1"/>
<text class="s" x="666.1" y="459.5" font-size="12" text-anchor="middle">0.6</text>
<text class="s" x="439" y="274.8" font-size="29">c</text>
<text class="s" transform="translate(623.6,423.9) scale(1,1.06)" font-size="22.2">A<tspan font-size="16" dy="5.8" dx="0.6">g</tspan><tspan dy="-5.8">(4)</tspan></text>
<circle cx="448.5" cy="438.3" r="3.95" fill="#00f"/>
<circle cx="521.0" cy="399.9" r="3.95" fill="#00f"/>
<circle cx="593.6" cy="368.5" r="3.95" fill="#00f"/>
<circle cx="666.1" cy="268.8" r="3.95" fill="#00f"/>
<text class="s" transform="translate(399.9,344.5) rotate(-90)" font-size="19" text-anchor="middle">Wavenumber (cm<tspan font-size="14" dy="-5.3">-1</tspan><tspan dy="5.3">)</tspan></text>
<text class="s" x="447.2" y="483.2" font-size="18.3">x in Y<tspan font-size="13.2" dy="5.3">x</tspan><tspan dy="-5.3">Gd</tspan><tspan font-size="13.2" dy="5.3">1-x</tspan><tspan dy="-5.3">Mn</tspan><tspan font-size="13.2" dy="5.3">0.97</tspan><tspan dy="-5.3">Fe</tspan><tspan font-size="13.2" dy="5.3">0.03</tspan><tspan dy="-5.3">O</tspan><tspan font-size="13.2" dy="5.3">3</tspan></text>
</svg></body></html>
